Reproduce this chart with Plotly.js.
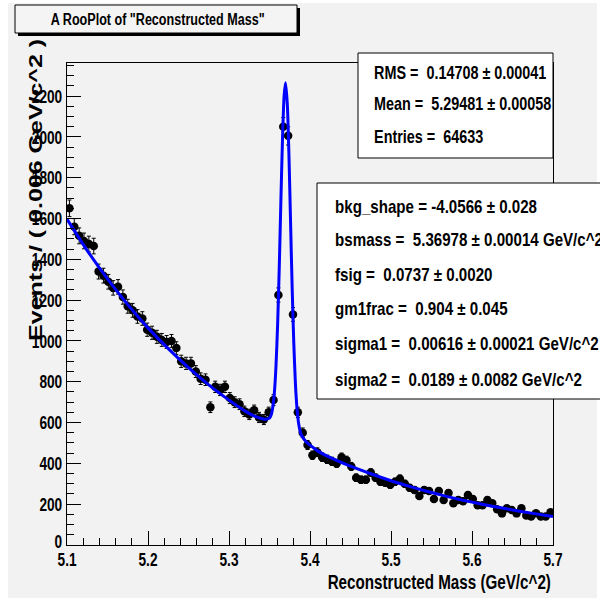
<!DOCTYPE html>
<html>
<head>
<meta charset="utf-8">
<script src="https://cdn.plot.ly/plotly-3.0.1.min.js"></script>
<style>
  html, body { margin: 0; padding: 0; background: #ffffff; }
  #chart { width: 600px; height: 605px; }
</style>
</head>
<body>
<div id="chart"></div>
<script>
// ---- data ----
const binCenters = [
  5.103,5.109,5.115,5.121,5.127,5.133,5.139,5.145,5.151,5.157,
  5.163,5.169,5.175,5.181,5.187,5.193,5.199,5.205,5.211,5.217,
  5.223,5.229,5.235,5.241,5.247,5.253,5.259,5.265,5.271,5.277,
  5.283,5.289,5.295,5.301,5.307,5.313,5.319,5.325,5.331,5.337,
  5.343,5.349,5.355,5.361,5.367,5.373,5.379,5.385,5.391,5.397,
  5.403,5.409,5.415,5.421,5.427,5.433,5.439,5.445,5.451,5.457,
  5.463,5.469,5.475,5.481,5.487,5.493,5.499,5.505,5.511,5.517,
  5.523,5.529,5.535,5.541,5.547,5.553,5.559,5.565,5.571,5.577,
  5.583,5.589,5.595,5.601,5.607,5.613,5.619,5.625,5.631,5.637,
  5.643,5.649,5.655,5.661,5.667,5.673,5.679,5.685,5.691,5.697
];
const eventCounts = [
  1650,1560,1515,1490,1475,1465,1340,1320,1290,1260,
  1265,1215,1170,1150,1120,1110,1055,1040,1020,1005,
  995,1000,965,900,890,890,850,815,810,675,
  775,760,775,720,700,690,655,640,660,625,
  615,650,710,1225,2050,2005,1130,650,550,490,
  440,455,430,420,410,400,430,415,385,330,
  320,320,355,330,310,305,295,310,325,300,
  280,270,240,270,265,225,265,220,255,205,
  220,215,245,225,195,195,220,205,175,155,
  180,172,155,180,145,140,155,140,140,160
];
// fitted model curve
const fitX = [
  5.100,5.125,5.150,5.175,5.200,5.225,5.250,5.275,5.300,5.320,5.330,5.340,5.345,
  5.350,5.352,5.354,5.356,5.358,5.360,5.362,5.364,5.366,5.368,5.3698,
  5.372,5.374,5.376,5.378,5.380,5.382,5.384,5.386,5.388,5.390,5.395,5.400,
  5.410,5.420,5.450,5.475,5.500,5.525,5.550,5.575,5.600,5.625,5.650,5.675,5.700
];
const fitY = [
  1597,1443,1304,1178,1064,962,869,785,710,656,634,620,616,
  622,637,674,745,876,1076,1352,1677,1983,2198,2265,
  2160,1911,1583,1257,988,791,667,594,555,534,507,489,
  460,438,386,349,315,285,257,232,210,190,172,155,140
];
const xTickVals = [5.1,5.2,5.3,5.4,5.5,5.6,5.7];
const xTickText = ["5.1","5.2","5.3","5.4","5.5","5.6","5.7"];
const yTickVals = [0,200,400,600,800,1000,1200,1400,1600,1800,2000,2200];
const yTickText = ["0","200","400","600","800","1000","1200","1400","1600","1800","2000","2200"];

const titleText = 'A RooPlot of "Reconstructed Mass"';
const xTitleText = 'Reconstructed Mass (GeV/c^2)';
const yTitleText = 'Events / ( 0.006 GeV/c^2 )';
const statLines = [
  "RMS =  0.14708 \u00b1 0.00041",
  "Mean =  5.29481 \u00b1 0.00058",
  "Entries =  64633"
];
const paramLines = [
  "bkg_shape = -4.0566 \u00b1 0.028",
  "bsmass =  5.36978 \u00b1 0.00014 GeV/c^2",
  "fsig =  0.0737 \u00b1 0.0020",
  "gm1frac =  0.904 \u00b1 0.045",
  "sigma1 =  0.00616 \u00b1 0.00021 GeV/c^2",
  "sigma2 =  0.0189 \u00b1 0.0082 GeV/c^2"
];

// ---- layout helpers (pixel -> paper) ----
const L = 67, R = 553, T = 63, B = 545;
const px = p => (p - L) / (R - L);
const py = p => (B - p) / (B - T);
const FONT = '"Liberation Sans", Arial, Helvetica, sans-serif';
const bold = s => '<b>' + s + '</b>';

const traces = [
  {
    type: 'scatter', mode: 'markers',
    x: binCenters, y: eventCounts,
    marker: { color: '#000000', size: 8.5, symbol: 'circle' },
    error_y: { type: 'sqrt', visible: true, color: '#000000', thickness: 1, width: 2 },
    hoverinfo: 'skip'
  },
  {
    type: 'scatter', mode: 'lines',
    x: fitX, y: fitY,
    line: { color: '#0000ff', width: 3, shape: 'spline', smoothing: 0.6 },
    hoverinfo: 'skip'
  }
];

const shapes = [
  { type: 'rect', xref: 'paper', yref: 'paper', layer: 'below',
    x0: px(8), x1: px(597), y0: py(598), y1: py(3),
    fillcolor: '#f2f2f2', line: { width: 0 } },
  { type: 'rect', xref: 'paper', yref: 'paper', layer: 'above',
    x0: px(18), x1: px(300), y0: py(36), y1: py(8),
    fillcolor: '#000000', line: { width: 0 } },
  { type: 'rect', xref: 'paper', yref: 'paper', layer: 'above',
    x0: px(15), x1: px(297), y0: py(33), y1: py(5),
    fillcolor: '#f4f4f4', line: { color: '#000000', width: 1 } },
  { type: 'rect', xref: 'paper', yref: 'paper', layer: 'above',
    x0: px(358), x1: px(553), y0: py(158), y1: py(53),
    fillcolor: '#ffffff', line: { color: '#000000', width: 1 } },
  { type: 'rect', xref: 'paper', yref: 'paper', layer: 'above',
    x0: px(317), x1: px(640), y0: py(399), y1: py(183),
    fillcolor: '#ffffff', line: { color: '#000000', width: 1 } }
];

// squeeze factor per annotation (ROOT text is condensed horizontally)
const annotations = [];
const squeeze = [];
function addAnn(a, sq) { annotations.push(a); squeeze.push(sq); }

addAnn({ xref: 'paper', yref: 'paper', x: px(157), y: py(19), xanchor: 'center', yanchor: 'middle',
  text: bold(titleText), showarrow: false,
  font: { family: FONT, size: 17, color: '#000000' } }, 0.74);
addAnn({ xref: 'paper', yref: 'paper', x: px(553), y: py(582), xanchor: 'right', yanchor: 'middle',
  text: bold(xTitleText), showarrow: false,
  font: { family: FONT, size: 20, color: '#000000' } }, 0.76);
addAnn({ xref: 'paper', yref: 'paper', x: px(35), y: py(190), xanchor: 'center', yanchor: 'middle',
  textangle: -90, text: bold(yTitleText), showarrow: false,
  font: { family: FONT, size: 25, color: '#000000' } }, 0.75);
const statY = [73, 104, 137];
statLines.forEach((t, i) => addAnn({
  xref: 'paper', yref: 'paper', x: px(372), y: py(statY[i]), xanchor: 'left', yanchor: 'middle',
  text: bold(t), showarrow: false, font: { family: FONT, size: 18, color: '#000000' }
}, 0.8));
const paramY = [207, 240, 275, 309, 344, 380];
paramLines.forEach((t, i) => addAnn({
  xref: 'paper', yref: 'paper', x: px(333), y: py(paramY[i]), xanchor: 'left', yanchor: 'middle',
  text: bold(t), showarrow: false, font: { family: FONT, size: 18, color: '#000000' }
}, 0.84));

const tickFont = { family: FONT, size: 19, color: '#000000', weight: 'bold' };

const layout = {
  width: 600, height: 605,
  margin: { l: L, r: 600 - R, t: T, b: 605 - B, pad: 0 },
  paper_bgcolor: '#ffffff',
  plot_bgcolor: '#f2f2f2',
  showlegend: false,
  xaxis: {
    range: [5.1, 5.7], tickmode: 'array', tickvals: xTickVals, ticktext: xTickText.map(bold),
    ticks: 'inside', ticklen: 14, tickwidth: 1, tickcolor: '#000000',
    showline: true, linecolor: '#000000', linewidth: 1, mirror: true,
    showgrid: false, zeroline: false, tickfont: tickFont,
    minor: { ticks: 'inside', ticklen: 7, dtick: 0.02, tick0: 5.1, tickcolor: '#000000', showgrid: false }
  },
  yaxis: {
    range: [0, 2362], tickmode: 'array', tickvals: yTickVals, ticktext: yTickText.map(bold),
    ticks: 'inside', ticklen: 14, tickwidth: 1, tickcolor: '#000000',
    showline: true, linecolor: '#000000', linewidth: 1, mirror: true,
    showgrid: false, zeroline: false, tickfont: tickFont,
    minor: { ticks: 'inside', ticklen: 7, dtick: 50, tick0: 0, tickcolor: '#000000', showgrid: false }
  },
  shapes: shapes,
  annotations: annotations
};

// condense a text node around an anchor given in screen space.
// axis 'x' scales along the parent's x, 'y' along the parent's y (for rotated text).
function condense(t, s, mode, axis, dy) {
  if (!t) return;
  const r = t.getBoundingClientRect();
  if (!r.width) return;
  const ax = mode === 'left' ? r.left : (mode === 'right' ? r.right : (r.left + r.right) / 2);
  const ay = (r.top + r.bottom) / 2;
  const parent = t.parentNode;
  const svg = t.ownerSVGElement;
  const pt = svg.createSVGPoint(); pt.x = ax; pt.y = ay;
  const p = pt.matrixTransform(parent.getScreenCTM().inverse());
  const old = t.getAttribute('transform') || '';
  const sc = axis === 'y' ? ('scale(1,' + s + ')') : ('scale(' + s + ',1)');
  const shift = dy ? ('translate(0,' + dy + ') ') : '';
  t.setAttribute('transform',
    shift + 'translate(' + p.x + ',' + p.y + ') ' + sc + ' translate(' + (-p.x) + ',' + (-p.y) + ') ' + old);
}

Plotly.newPlot('chart', traces, layout, { staticPlot: true, displayModeBar: false }).then(gd => {
  gd.querySelectorAll('.xtick text').forEach(t => condense(t, 0.72, 'center', 'x', -3));
  gd.querySelectorAll('.ytick text').forEach(t => {
    const isZero = (t.textContent || '').trim() === '0';
    condense(t, 0.72, 'right', 'x', isZero ? -4 : 0);
  });
  gd.querySelectorAll('g.annotation').forEach(g => {
    const i = +g.getAttribute('data-index');
    const a = annotations[i];
    if (!a || squeeze[i] === 1) return;
    const t = g.querySelector('text.annotation-text');
    if (a.textangle) condense(t, squeeze[i], 'center', 'y', 0);
    else condense(t, squeeze[i], a.xanchor, 'x', 0);
  });
});
</script>
</body>
</html>
